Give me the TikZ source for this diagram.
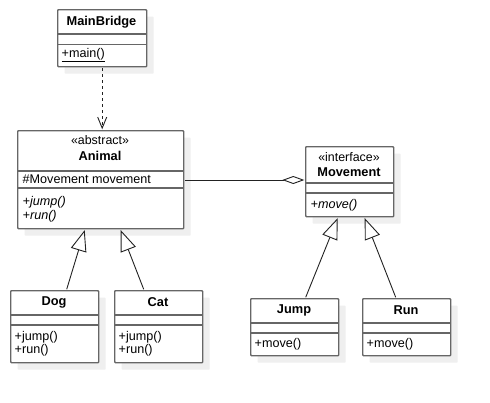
\documentclass[tikz,border=0pt]{standalone}
\usepackage{fontspec}
\setmainfont{Liberation Sans}
\usetikzlibrary{arrows.meta,calc,shadows}
\definecolor{boxline}{HTML}{666666}
\definecolor{shadowc}{HTML}{EFEFEF}
\definecolor{conn}{HTML}{222222}
\begin{document}
\begin{tikzpicture}[x=1pt,y=-1pt,
  classbox/.style={draw=boxline, line width=1.4pt, fill=white, inner sep=0pt,
    anchor=north west, rounded corners=0.8pt,
    drop shadow={shadow xshift=7pt, shadow yshift=-7pt, fill=shadowc, opacity=1}},
  divline/.style={draw=boxline, line width=1.4pt},
  ttl/.style={font=\fontsize{12.8}{14}\selectfont\bfseries, inner sep=0pt},
  stereo/.style={font=\fontsize{12.4}{14}\selectfont, inner sep=0pt},
  memb/.style={font=\fontsize{12.6}{13.2}\selectfont, inner sep=0pt, anchor=west, align=left},
  conline/.style={draw=conn, line width=0.9pt},
  gen/.style={conline, -{Triangle[open, length=21pt, width=16pt, line width=0.9pt]}},
  dep/.style={conline, dash pattern=on 3pt off 3pt, -{Straight Barb[length=11pt, width=9pt, line width=0.9pt]}},
  agg/.style={conline, -{Diamond[open, length=22pt, width=8pt, line width=0.9pt]}}
]
\useasboundingbox[fill=white] (0,0) rectangle (490,402);

% MainBridge
\node[classbox, minimum width=89pt, minimum height=57pt] (mb) at (57,9) {};
\draw[divline] ($(mb.north west)+(0,25)$) -- ($(mb.north east)+(0,25)$);
\draw[divline] ($(mb.north west)+(0,35.5)$) -- ($(mb.north east)+(0,35.5)$);
\node[ttl] (mbT) at (101.5,22) {MainBridge};
\node[memb] (mbM) at (61.5,55) {\underline{+main()}};

% Animal
\node[classbox, minimum width=166pt, minimum height=98pt] (an) at (17,130) {};
\draw[divline] ($(an.north west)+(0,41)$) -- ($(an.north east)+(0,41)$);
\draw[divline] ($(an.north west)+(0,58)$) -- ($(an.north east)+(0,58)$);
\node[stereo] (anS) at (100,140) {«abstract»};
\node[ttl] (anT) at (100,156) {Animal};
\node[memb] (anA) at (22.5,179) {\#Movement movement};
\node[memb] (anM1) at (22.5,202) {\itshape +jump()};
\node[memb] (anM2) at (22.5,216) {\itshape +run()};

% Movement
\node[classbox, minimum width=88pt, minimum height=70pt] (mv) at (305,146) {};
\draw[divline] ($(mv.north west)+(0,37)$) -- ($(mv.north east)+(0,37)$);
\draw[divline] ($(mv.north west)+(0,47)$) -- ($(mv.north east)+(0,47)$);
\node[stereo] (mvS) at (349,157) {«interface»};
\node[ttl] (mvT) at (349,172) {Movement};
\node[memb] (mvM) at (310.5,205) {\itshape +move()};

% Dog
\node[classbox, minimum width=88pt, minimum height=72pt] (dog) at (10,290) {};
\draw[divline] ($(dog.north west)+(0,25)$) -- ($(dog.north east)+(0,25)$);
\draw[divline] ($(dog.north west)+(0,35)$) -- ($(dog.north east)+(0,35)$);
\node[ttl] (dogT) at (54,302.5) {Dog};
\node[memb] (dogM1) at (14.5,337) {+jump()};
\node[memb] (dogM2) at (14.5,350) {+run()};

% Cat
\node[classbox, minimum width=88pt, minimum height=72pt] (cat) at (114,290) {};
\draw[divline] ($(cat.north west)+(0,25)$) -- ($(cat.north east)+(0,25)$);
\draw[divline] ($(cat.north west)+(0,35)$) -- ($(cat.north east)+(0,35)$);
\node[ttl] (catT) at (158,302.5) {Cat};
\node[memb] (catM1) at (118.5,337) {+jump()};
\node[memb] (catM2) at (118.5,350) {+run()};

% Jump
\node[classbox, minimum width=88pt, minimum height=57pt] (jp) at (250,298) {};
\draw[divline] ($(jp.north west)+(0,25)$) -- ($(jp.north east)+(0,25)$);
\draw[divline] ($(jp.north west)+(0,35)$) -- ($(jp.north east)+(0,35)$);
\node[ttl] (jpT) at (294,310.5) {Jump};
\node[memb] (jpM) at (254.5,344) {+move()};

% Run
\node[classbox, minimum width=88pt, minimum height=57pt] (rn) at (362,298) {};
\draw[divline] ($(rn.north west)+(0,25)$) -- ($(rn.north east)+(0,25)$);
\draw[divline] ($(rn.north west)+(0,35)$) -- ($(rn.north east)+(0,35)$);
\node[ttl] (rnT) at (406,310.5) {Run};
\node[memb] (rnM) at (366.5,344) {+move()};

% connectors
\draw[dep] ($(mb.south)+(0,0.7)$) -- ($(an.north)+(1.5,-0.7)$);
\draw[agg] ($(an.east |- 0,180)+(0.7,0)$) -- ($(mv.west |- 0,180)+(-0.7,0)$);
\draw[gen] ($(dog.north)+(12,-0.7)$) -- ($(an.south)+(-16,0.7)$);
\draw[gen] ($(cat.north)+(-15,-0.7)$) -- ($(an.south)+(20,0.7)$);
\draw[gen] ($(jp.north)+(11,-0.7)$) -- ($(mv.south)+(-12,0.7)$);
\draw[gen] ($(rn.north)+(-11,-0.7)$) -- ($(mv.south)+(15,0.7)$);
\end{tikzpicture}
\end{document}
